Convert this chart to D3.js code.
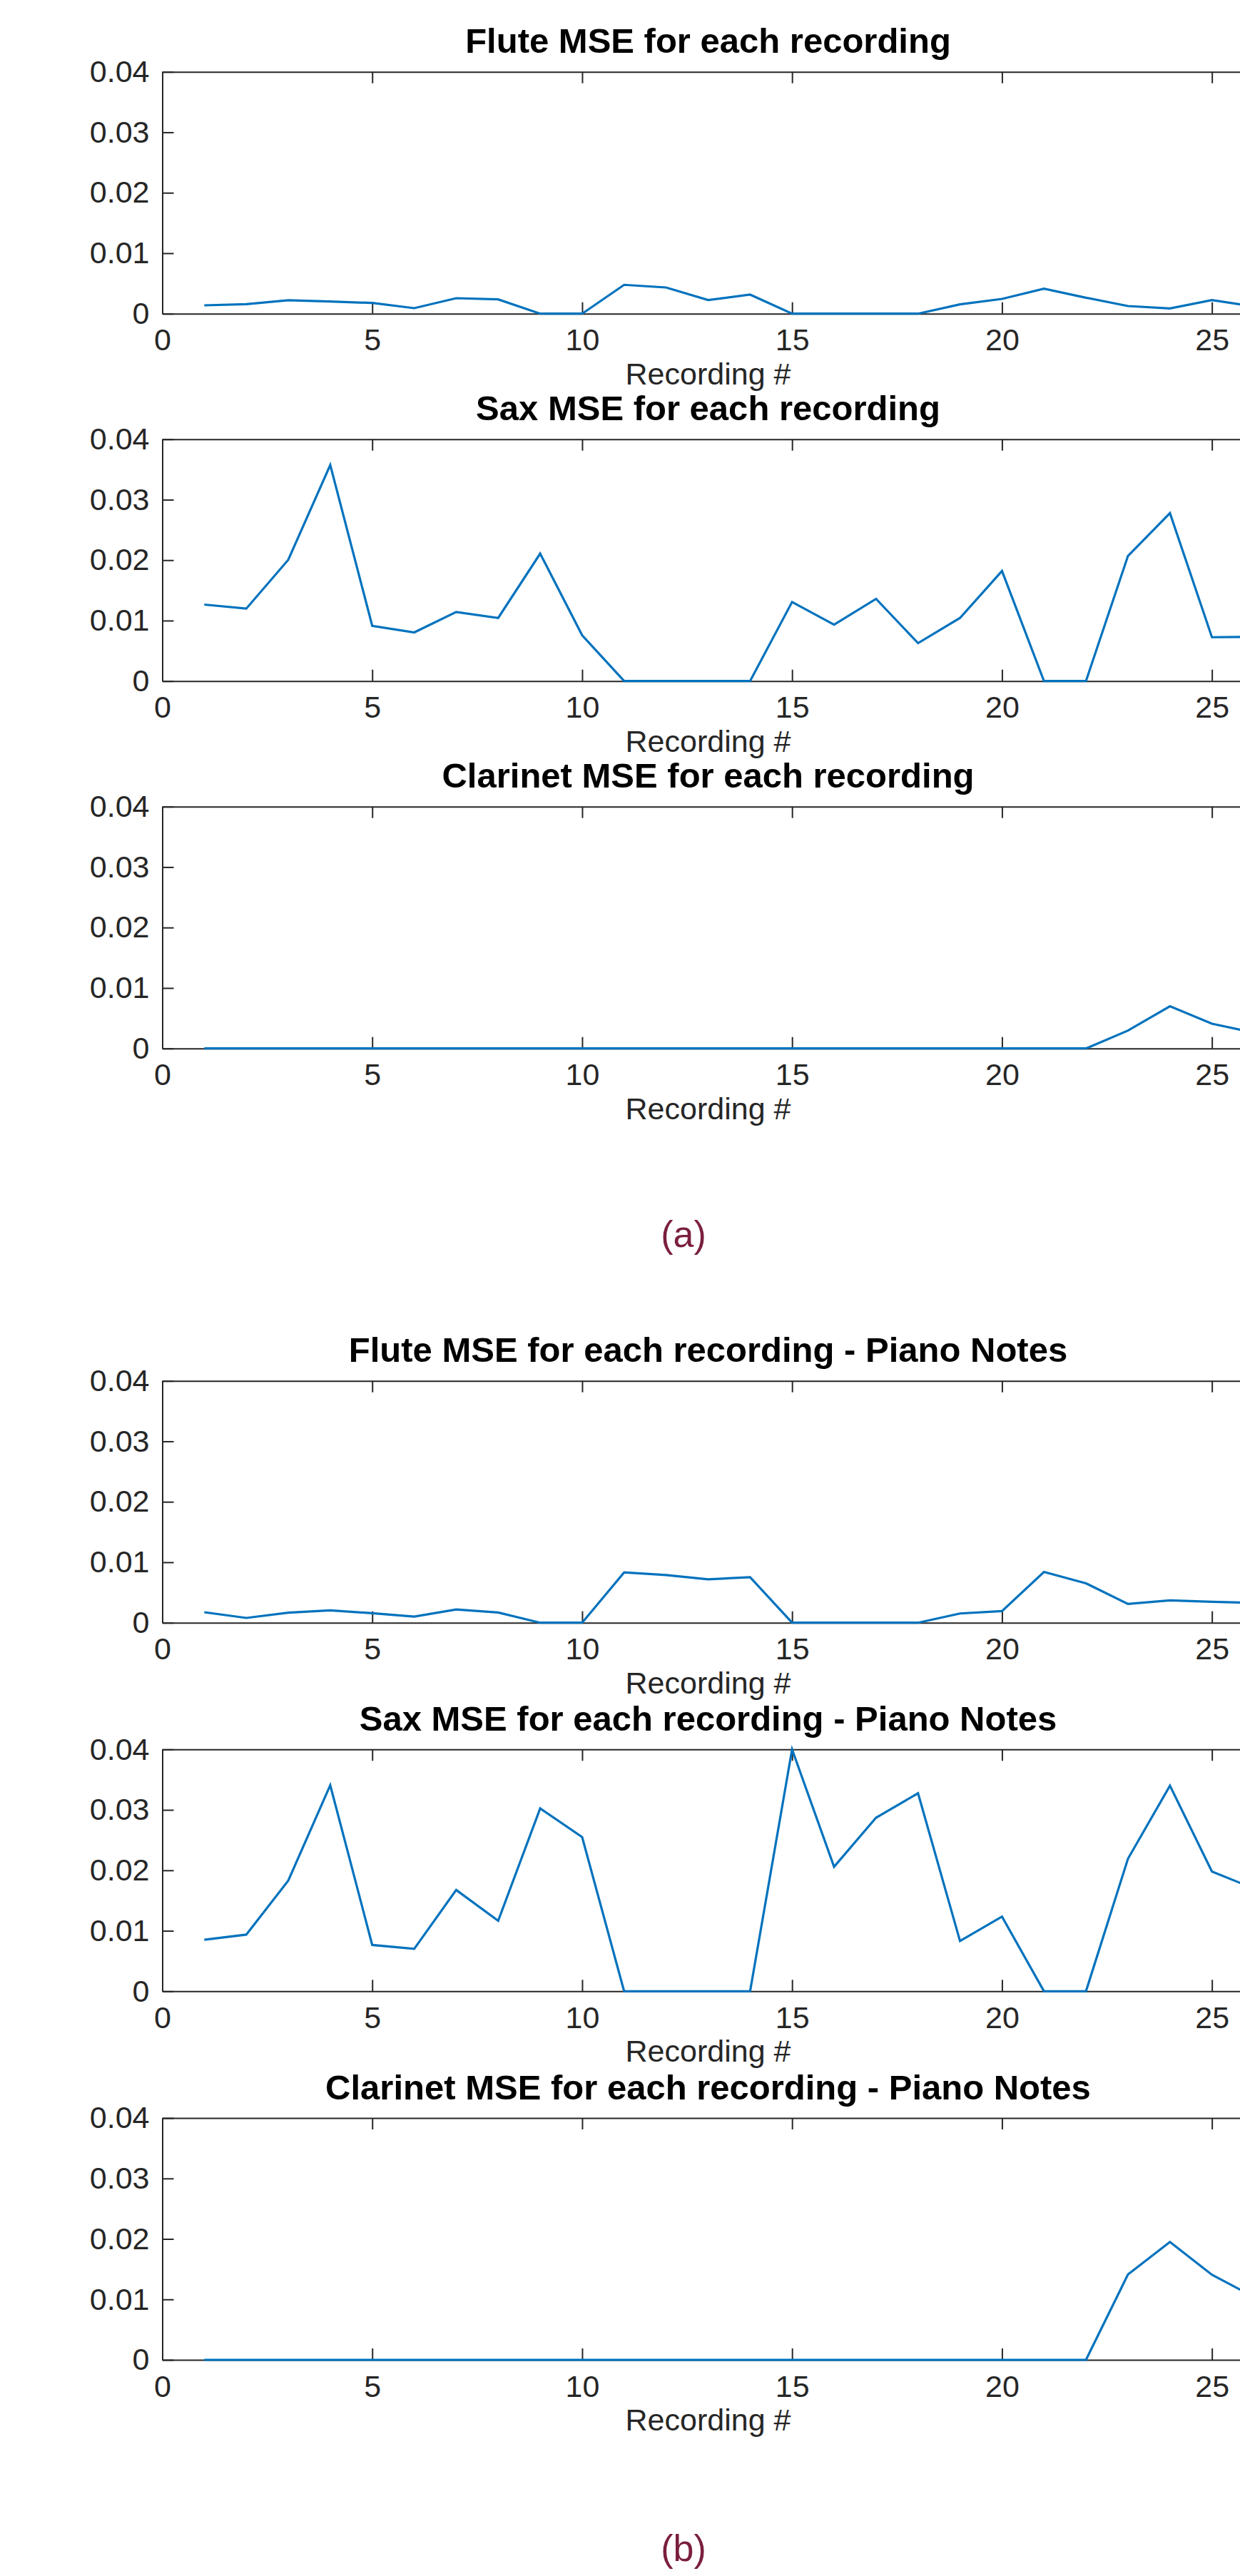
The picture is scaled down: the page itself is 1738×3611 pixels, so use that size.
<!DOCTYPE html>
<html>
<head>
<meta charset="utf-8">
<script src="https://cdn.jsdelivr.net/npm/d3@7"></script>
<style>
  html, body { margin: 0; padding: 0; background: #fff; overflow: hidden; }
  svg { display: block; }
</style>
</head>
<body>
<div id="chart"></div>
<script>
// Recording numbers 1..26
const recordings = [1, 2, 3, 4, 5, 6, 7, 8, 9, 10, 11, 12, 13, 14, 15, 16, 17, 18, 19, 20, 21, 22, 23, 24, 25, 26];

// MSE per recording, set (a)
const fluteMse = [0.00138, 0.00158, 0.00221, 0.00201, 0.00177, 0.00091, 0.00256, 0.00236, 0, 0,
  0.00477, 0.00433, 0.00225, 0.00315, 0, 0, 0, 0, 0.00154, 0.00244,
  0.00414, 0.00264, 0.00126, 0.00087, 0.00225, 0.00118];
const saxMse = [0.01265, 0.01198, 0.02006, 0.03574, 0.00914, 0.00804, 0.01143, 0.01044, 0.02108, 0.00757,
  0, 0, 0, 0, 0.01308, 0.00934, 0.0136, 0.00627, 0.01044, 0.01821,
  0, 0, 0.02069, 0.02778, 0.00725, 0.0073];
const clarinetMse = [0, 0, 0, 0, 0, 0, 0, 0, 0, 0,
  0, 0, 0, 0, 0, 0, 0, 0, 0, 0,
  0, 0, 0.00296, 0.00698, 0.0041, 0.0026];

// MSE per recording, set (b): piano notes
const flutePianoMse = [0.00173, 0.00079, 0.00165, 0.00204, 0.00157, 0.00102, 0.0022, 0.00169, 0, 0,
  0.00832, 0.00789, 0.00718, 0.00754, 0, 0, 0, 0, 0.00153, 0.00192,
  0.0084, 0.00652, 0.0031, 0.00369, 0.00345, 0.00328];
const saxPianoMse = [0.00851, 0.00937, 0.01831, 0.03408, 0.00765, 0.00702, 0.01675, 0.01165, 0.03024, 0.02549,
  0, 0, 0, 0, 0.04, 0.02059, 0.0287, 0.03275, 0.00831, 0.01235,
  0, 0, 0.02192, 0.034, 0.0198, 0.0170];
const clarinetPianoMse = [0, 0, 0, 0, 0, 0, 0, 0, 0, 0,
  0, 0, 0, 0, 0, 0, 0, 0, 0, 0,
  0, 0, 0.01412, 0.01949, 0.01408, 0.0104];

const titles = [
  "Flute MSE for each recording",
  "Sax MSE for each recording",
  "Clarinet MSE for each recording",
  "Flute MSE for each recording - Piano Notes",
  "Sax MSE for each recording - Piano Notes",
  "Clarinet MSE for each recording - Piano Notes"
];
const seriesList = [fluteMse, saxMse, clarinetMse, flutePianoMse, saxPianoMse, clarinetPianoMse];
const xTicks = [0, 5, 10, 15, 20, 25];
const yTicks = [0, 0.01, 0.02, 0.03, 0.04];
const xLabel = "Recording #";
const panelLabels = ["(a)", "(b)"];

// ---- layout ----
const W = 1738, H = 3611;
const plotLeft = 227.5, plotRight = 1757.5;
const plotH = 339;
const panelTops = [100.7, 615.7, 1130.7, 1935.7, 2452.3, 2969];
const axisColor = "#262626";
const lineColor = "#0072BD";
const font = '"Liberation Sans", Arial, Helvetica, sans-serif';

const svg = d3.select("#chart").append("svg")
  .attr("width", W).attr("height", H)
  .attr("viewBox", `0 0 ${W} ${H}`);

const x = d3.scaleLinear().domain([0, 26]).range([plotLeft, plotRight]);

seriesList.forEach((values, i) => {
  const top = panelTops[i];
  const y = d3.scaleLinear().domain([0, 0.04]).range([top + plotH, top]);
  const g = svg.append("g");

  // title
  g.append("text")
    .attr("x", (plotLeft + plotRight) / 2)
    .attr("y", top - 26.5)
    .attr("text-anchor", "middle")
    .attr("font-family", font)
    .attr("font-weight", "bold")
    .attr("font-size", 49)
    .attr("fill", "#000")
    .text(titles[i]);

  // bottom axis, ticks pointing inward
  const xb = g.append("g")
    .attr("transform", `translate(0,${top + plotH})`)
    .call(d3.axisBottom(x).tickValues(xTicks).tickFormat(d3.format("d"))
      .tickSizeInner(-16).tickSizeOuter(0).tickPadding(21));
  // top axis, ticks only
  const xt = g.append("g")
    .attr("transform", `translate(0,${top})`)
    .call(d3.axisTop(x).tickValues(xTicks).tickFormat("")
      .tickSizeInner(-16).tickSizeOuter(0));
  // left axis
  const yl = g.append("g")
    .attr("transform", `translate(${plotLeft},0)`)
    .call(d3.axisLeft(y).tickValues(yTicks).tickFormat(d => d === 0 ? "0" : d3.format(".2f")(d))
      .tickSizeInner(-16).tickSizeOuter(0).tickPadding(18));

  [xb, xt, yl].forEach(a => {
    a.select(".domain").attr("stroke", axisColor).attr("stroke-width", 2);
    a.selectAll(".tick line").attr("stroke", axisColor).attr("stroke-width", 2);
    a.selectAll(".tick text")
      .attr("fill", axisColor)
      .attr("font-size", 43)
      .attr("font-family", font);
  });

  // series line
  const line = d3.line()
    .x((d, j) => x(recordings[j]))
    .y(d => y(d));
  g.append("path")
    .datum(values)
    .attr("fill", "none")
    .attr("stroke", lineColor)
    .attr("stroke-width", 3.2)
    .attr("stroke-linejoin", "miter")
    .attr("d", line);

  // x-axis label
  g.append("text")
    .attr("x", (plotLeft + plotRight) / 2)
    .attr("y", top + plotH + 99)
    .attr("text-anchor", "middle")
    .attr("font-family", font)
    .attr("font-size", 43)
    .attr("fill", axisColor)
    .text(xLabel);
});

// sub-figure captions
const captionY = [1748, 3590];
panelLabels.forEach((t, i) => {
  svg.append("text")
    .attr("x", 958)
    .attr("y", captionY[i])
    .attr("text-anchor", "middle")
    .attr("font-family", font)
    .attr("font-size", 52)
    .attr("fill", "#7A1F3D")
    .text(t);
});
</script>
</body>
</html>
